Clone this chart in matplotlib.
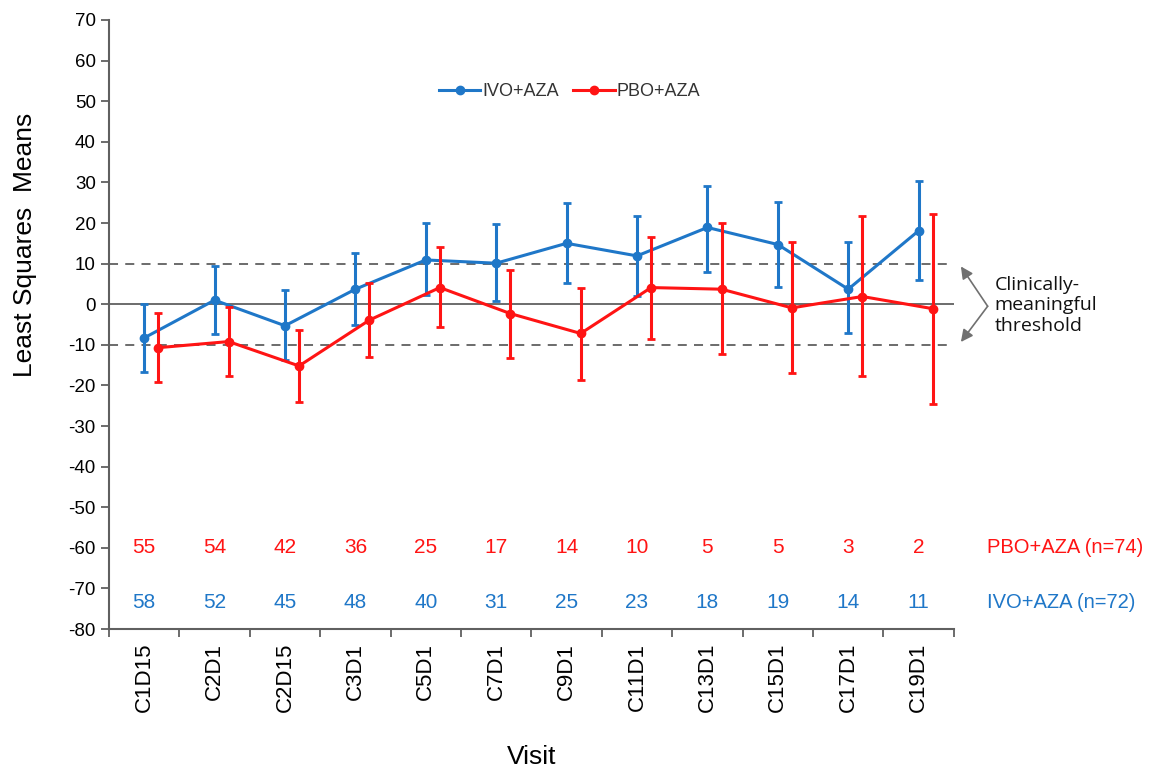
import numpy as np
import matplotlib
matplotlib.use("Agg")
import matplotlib.pyplot as plt
from matplotlib.lines import Line2D

# Data
visits = ['C1D15', 'C2D1', 'C2D15', 'C3D1', 'C5D1', 'C7D1',
          'C9D1', 'C11D1', 'C13D1', 'C15D1', 'C17D1', 'C19D1']

ivo_mean = [-8.3, 1.0, -5.3, 3.7, 10.9, 10.1, 15.0, 11.9, 18.9, 14.7, 3.7, 18.1]
ivo_low = [-16.7, -7.3, -13.7, -5.0, 2.3, 0.8, 5.2, 2.0, 8.0, 4.3, -7.2, 6.0]
ivo_high = [0.1, 9.5, 3.5, 12.5, 20.0, 19.7, 24.9, 21.7, 29.2, 25.2, 15.3, 30.3]

pbo_mean = [-10.7, -9.2, -15.2, -3.9, 4.1, -2.3, -7.2, 4.1, 3.7, -0.9, 1.9, -1.1]
pbo_low = [-19.1, -17.7, -24.2, -12.9, -5.7, -13.2, -18.6, -8.5, -12.2, -17.0, -17.7, -24.5]
pbo_high = [-2.2, -0.7, -6.3, 5.2, 14.2, 8.4, 3.9, 16.5, 20.0, 15.2, 21.7, 22.3]

pbo_n = [55, 54, 42, 36, 25, 17, 14, 10, 5, 5, 3, 2]
ivo_n = [58, 52, 45, 48, 40, 31, 25, 23, 18, 19, 14, 11]

blue = '#1f77c8'
red = '#ff1414'
grey = '#606060'

plt.rcParams['font.family'] = ['Liberation Sans', 'DejaVu Sans']
plt.rcParams['axes.unicode_minus'] = False

fig = plt.figure(figsize=(11.59, 7.69), dpi=100)
ax = fig.add_axes([0.094, 0.182, 0.729, 0.792])

x = np.arange(len(visits))
off = 0.2

# reference lines
ax.axhline(0, color=grey, lw=1.3, zorder=1)
ax.axhline(10, color=grey, lw=1.3, ls=(0, (5, 4)), zorder=1)
ax.axhline(-10, color=grey, lw=1.3, ls=(0, (5, 4)), zorder=1)

def err(m, lo, hi):
    m, lo, hi = np.array(m), np.array(lo), np.array(hi)
    return [m - lo, hi - m]

ax.errorbar(x, ivo_mean, yerr=err(ivo_mean, ivo_low, ivo_high), color=blue,
            lw=2.2, elinewidth=2.2, capsize=3, capthick=2, marker='o', ms=6,
            zorder=3)
ax.errorbar(x + off, pbo_mean, yerr=err(pbo_mean, pbo_low, pbo_high), color=red,
            lw=2.2, elinewidth=2.2, capsize=3, capthick=2, marker='o', ms=6,
            zorder=4)

# patient counts
for i in range(len(visits)):
    ax.text(x[i], -60, str(pbo_n[i]), color=red, fontsize=15, ha='center', va='center')
    ax.text(x[i], -73.5, str(ivo_n[i]), color=blue, fontsize=15, ha='center', va='center')
ax.text(11.97, -60, 'PBO+AZA (n=74)', color=red, fontsize=14.5, ha='left', va='center',
        clip_on=False)
ax.text(11.97, -73.5, 'IVO+AZA (n=72)', color=blue, fontsize=14.5, ha='left', va='center',
        clip_on=False)

# threshold annotation
for ytip in (9.3, -9.3):
    ax.annotate('', xy=(11.6, ytip), xytext=(11.98, -0.5), xycoords='data',
                annotation_clip=False,
                arrowprops=dict(arrowstyle='-|>', color='#707070', lw=1.2,
                                mutation_scale=18, shrinkA=0, shrinkB=0))
ax.text(12.08, -0.3, 'Clinically-\nmeaningful\nthreshold', fontsize=14,
        family=['Open Sans', 'DejaVu Sans'], ha='left', va='center',
        linespacing=1.2, clip_on=False, color='#111111')

ax.set_xlim(-0.5, 11.5)
ax.set_ylim(-80, 70)
ax.set_yticks(np.arange(-80, 71, 10))
ax.tick_params(axis='y', labelsize=13.5, length=6, width=1.3, color=grey, direction='out')
ax.set_xticks(np.arange(-0.5, 12, 1))
ax.set_xticklabels([])
ax.tick_params(axis='x', which='major', length=6, width=1.3, color=grey, direction='out')
ax.set_xticks(x, minor=True)
ax.set_xticklabels(visits, minor=True, rotation=90, fontsize=16)
ax.tick_params(axis='x', which='minor', length=0, pad=10)

for s in ('top', 'right'):
    ax.spines[s].set_visible(False)
for s in ('left', 'bottom'):
    ax.spines[s].set_color(grey)
    ax.spines[s].set_linewidth(1.5)

ax.set_ylabel('Least Squares  Means', fontsize=19)
ax.yaxis.set_label_coords(-0.085, 0.63)
ax.set_xlabel('Visit', fontsize=19)
ax.xaxis.set_label_coords(0.5, -0.19)

handles = [Line2D([], [], color=blue, lw=2.2, marker='o', ms=6),
           Line2D([], [], color=red, lw=2.2, marker='o', ms=6)]
leg = ax.legend(handles, ['IVO+AZA', 'PBO+AZA'], loc='center',
                bbox_to_anchor=(0.545, 0.882), ncol=2, frameon=False,
                fontsize=13, handlelength=2.3, handletextpad=0.1, columnspacing=0.8)
for t in leg.get_texts():
    t.set_color('#333333')

fig.savefig('out.png', dpi=100)
